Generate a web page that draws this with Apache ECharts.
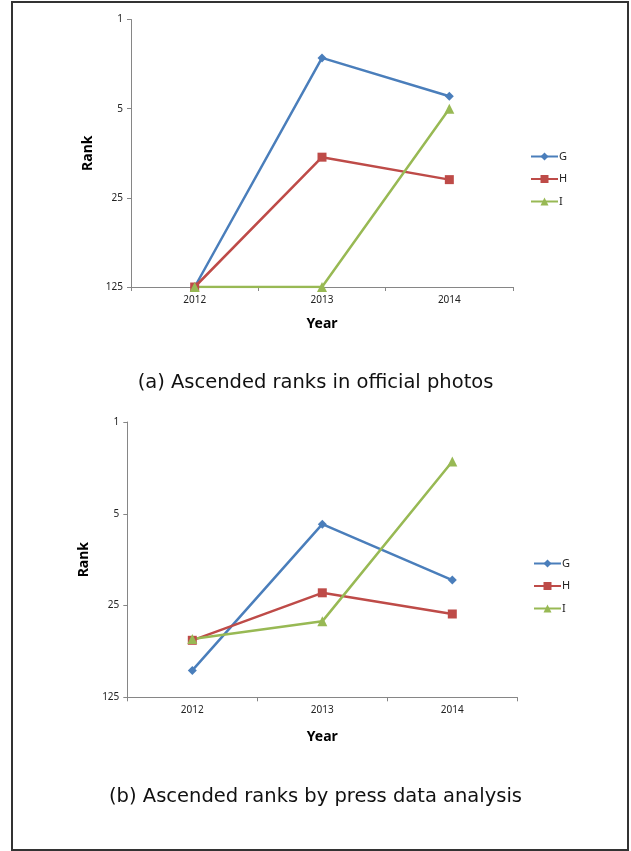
<!DOCTYPE html>
<html>
<head>
<meta charset="utf-8">
<script src="https://cdn.jsdelivr.net/npm/echarts@6/dist/echarts.min.js"></script>
<style>
html,body{margin:0;padding:0;background:#fff;}
#c{width:631px;height:851px;}
</style>
</head>
<body>
<div id="c"></div>
<script>
// Data
const years = ['2012', '2013', '2014'];
const seriesNames = ['G', 'H', 'I'];
const officialG = [125, 2, 4];
const officialH = [125, 12, 18];
const officialI = [125, 125, 5];
const pressG = [78, 6, 16];
const pressH = [46, 20, 29];
const pressI = [45, 33, 2];
const captionA = '(a) Ascended ranks in official photos';
const captionB = '(b) Ascended ranks by press data analysis';
const xName = 'Year';
const yName = 'Rank';

const colors = ['#4a7ebb', '#be4b48', '#98b954'];
const symbols = ['diamond', 'rect', 'triangle'];
const symbolSizes = [9, 9, 10];

const chart = echarts.init(document.getElementById('c'), null, {renderer: 'canvas'});

function xAxis(gridIndex, gap) {
  return {
    type: 'category', gridIndex: gridIndex, data: years, boundaryGap: true,
    name: xName, nameLocation: 'middle', nameGap: gap,
    nameTextStyle: {fontFamily: 'Noto Sans', fontWeight: 'bold', fontSize: 14, color: '#000'},
    axisLine: {lineStyle: {color: '#868686', width: 1}},
    axisTick: {show: true, length: 4, lineStyle: {color: '#868686'}},
    axisLabel: {fontFamily: 'Noto Sans', fontSize: 10, color: '#222', margin: 8},
    splitLine: {show: false}
  };
}
function yAxis(gridIndex, gap) {
  return {
    type: 'log', logBase: 5, gridIndex: gridIndex, inverse: true, min: 1, max: 125,
    name: yName, nameLocation: 'middle', nameGap: gap, nameRotate: 90,
    nameTextStyle: {fontFamily: 'Noto Sans', fontWeight: 'bold', fontSize: 14, color: '#000'},
    axisLine: {show: true, lineStyle: {color: '#868686', width: 1}},
    axisTick: {show: true, length: 4, lineStyle: {color: '#868686'}},
    axisLabel: {fontFamily: 'Noto Sans', fontSize: 10, color: '#222', margin: 8,
      formatter: v => String(Math.round(v))},
    splitLine: {show: false}
  };
}
function mkSeries(name, data, idx, axisIdx) {
  return {
    name: name, type: 'line', data: data, xAxisIndex: axisIdx, yAxisIndex: axisIdx,
    symbol: symbols[idx], symbolSize: symbolSizes[idx], showSymbol: true,
    lineStyle: {color: colors[idx], width: 2.5},
    itemStyle: {color: colors[idx]},
    emphasis: {disabled: true},
    animation: false
  };
}
function legend(left, top) {
  return {
    data: seriesNames, orient: 'vertical', left: left, top: top, padding: 0,
    itemWidth: 27, itemHeight: 10, itemGap: 11.5,
    textStyle: {fontFamily: 'Noto Sans', fontSize: 11, color: '#222', padding: [0, 0, 0, -4]},
    selectedMode: false
  };
}

chart.setOption({
  animation: false,
  backgroundColor: '#fff',
  title: [
    {text: captionA, left: 'center', top: 368,
      textStyle: {fontFamily: 'DejaVu Sans', fontWeight: 'normal', fontSize: 19.5, color: '#111'}},
    {text: captionB, left: 'center', top: 782,
      textStyle: {fontFamily: 'DejaVu Sans', fontWeight: 'normal', fontSize: 19.5, color: '#111'}}
  ],
  grid: [
    {left: 131, top: 19.5, width: 382, height: 267.5},
    {left: 127.3, top: 422, width: 390, height: 275.3}
  ],
  legend: [legend(530, 151), legend(533, 558)],
  xAxis: [xAxis(0, 30), xAxis(1, 33)],
  yAxis: [yAxis(0, 33), yAxis(1, 36)],
  series: [
    mkSeries('G', officialG, 0, 0),
    mkSeries('H', officialH, 1, 0),
    mkSeries('I', officialI, 2, 0),
    mkSeries('G', pressG, 0, 1),
    mkSeries('H', pressH, 1, 1),
    mkSeries('I', pressI, 2, 1)
  ],
  graphic: [
    {type: 'rect', shape: {x: 12, y: 2, width: 616, height: 848},
      style: {fill: 'none', stroke: '#333', lineWidth: 2}, silent: true}
  ]
});
</script>
</body>
</html>
